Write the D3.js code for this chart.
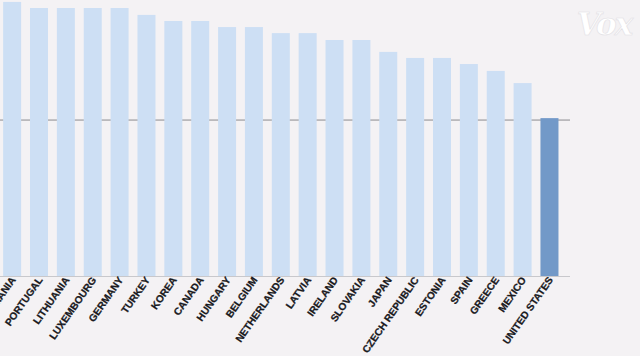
<!DOCTYPE html>
<html>
<head>
<meta charset="utf-8">
<script src="https://cdn.jsdelivr.net/npm/d3@7"></script>
<style>
html,body{margin:0;padding:0;background:#f4f2f4;}
svg{display:block;}
</style>
</head>
<body>
<svg id="chart" width="640" height="356"></svg>
<script>
const countries = ["ROMANIA","PORTUGAL","LITHUANIA","LUXEMBOURG","GERMANY","TURKEY","KOREA","CANADA","HUNGARY","BELGIUM","NETHERLANDS","LATVIA","IRELAND","SLOVAKIA","JAPAN","CZECH REPUBLIC","ESTONIA","SPAIN","GREECE","MEXICO","UNITED STATES"];
const values = [99.3,97.1,97.1,97.1,97.1,94.6,92.4,92.4,90.2,90.2,88.0,88.0,85.5,85.5,81.2,79.0,79.0,76.8,74.3,69.9,57.2];
const referenceValue = 56.5;
const highlight = "UNITED STATES";

const svg = d3.select("#chart");
const baseY = 276;
const x = d3.scaleBand().domain(countries).range([-1.3, 562.9]).paddingInner(0.33).paddingOuter(0.165);
const y = d3.scaleLinear().domain([0, 100]).range([baseY, 0]);

svg.append("rect").attr("width",640).attr("height",356).attr("fill","#f4f2f4");

// reference line behind bars
svg.append("line")
  .attr("x1",0).attr("x2",570)
  .attr("y1",y(referenceValue)).attr("y2",y(referenceValue))
  .attr("stroke","#8a8a8e").attr("stroke-width",1);

svg.selectAll("rect.bar").data(countries).enter().append("rect")
  .attr("class","bar")
  .attr("x", d => x(d))
  .attr("width", x.bandwidth())
  .attr("y", (d,i) => y(values[i]))
  .attr("height", (d,i) => baseY - y(values[i]))
  .attr("fill", d => d === highlight ? "#7299c8" : "#cddff4");

// baseline
svg.append("line")
  .attr("x1",0).attr("x2",570)
  .attr("y1",baseY+0.5).attr("y2",baseY+0.5)
  .attr("stroke","#c8c8cc").attr("stroke-width",1);

// labels
svg.selectAll("text.lab").data(countries).enter().append("text")
  .attr("class","lab")
  .attr("transform", d => `translate(${x(d)+x.bandwidth()/2+4},${baseY+4}) rotate(-55)`)
  .attr("text-anchor","end")
  .attr("font-family","Liberation Sans, Arial, sans-serif")
  .attr("font-weight","bold")
  .attr("font-size",10.2)
  .attr("fill","#1a1a1e")
  .attr("stroke","#1a1a1e").attr("stroke-width",0.25)
  .text(d => d);

// Vox logo
svg.append("text")
  .attr("x",604).attr("y",35)
  .attr("text-anchor","middle")
  .attr("font-family","DejaVu Serif, serif")
  .attr("font-style","italic")
  .attr("font-weight","bold")
  .attr("font-size",31)
  .attr("fill","#ffffff")
  .attr("stroke","#e2e0e4").attr("stroke-width",0.6)
  .attr("letter-spacing",-2)
  .text("Vox");
</script>
</body>
</html>
